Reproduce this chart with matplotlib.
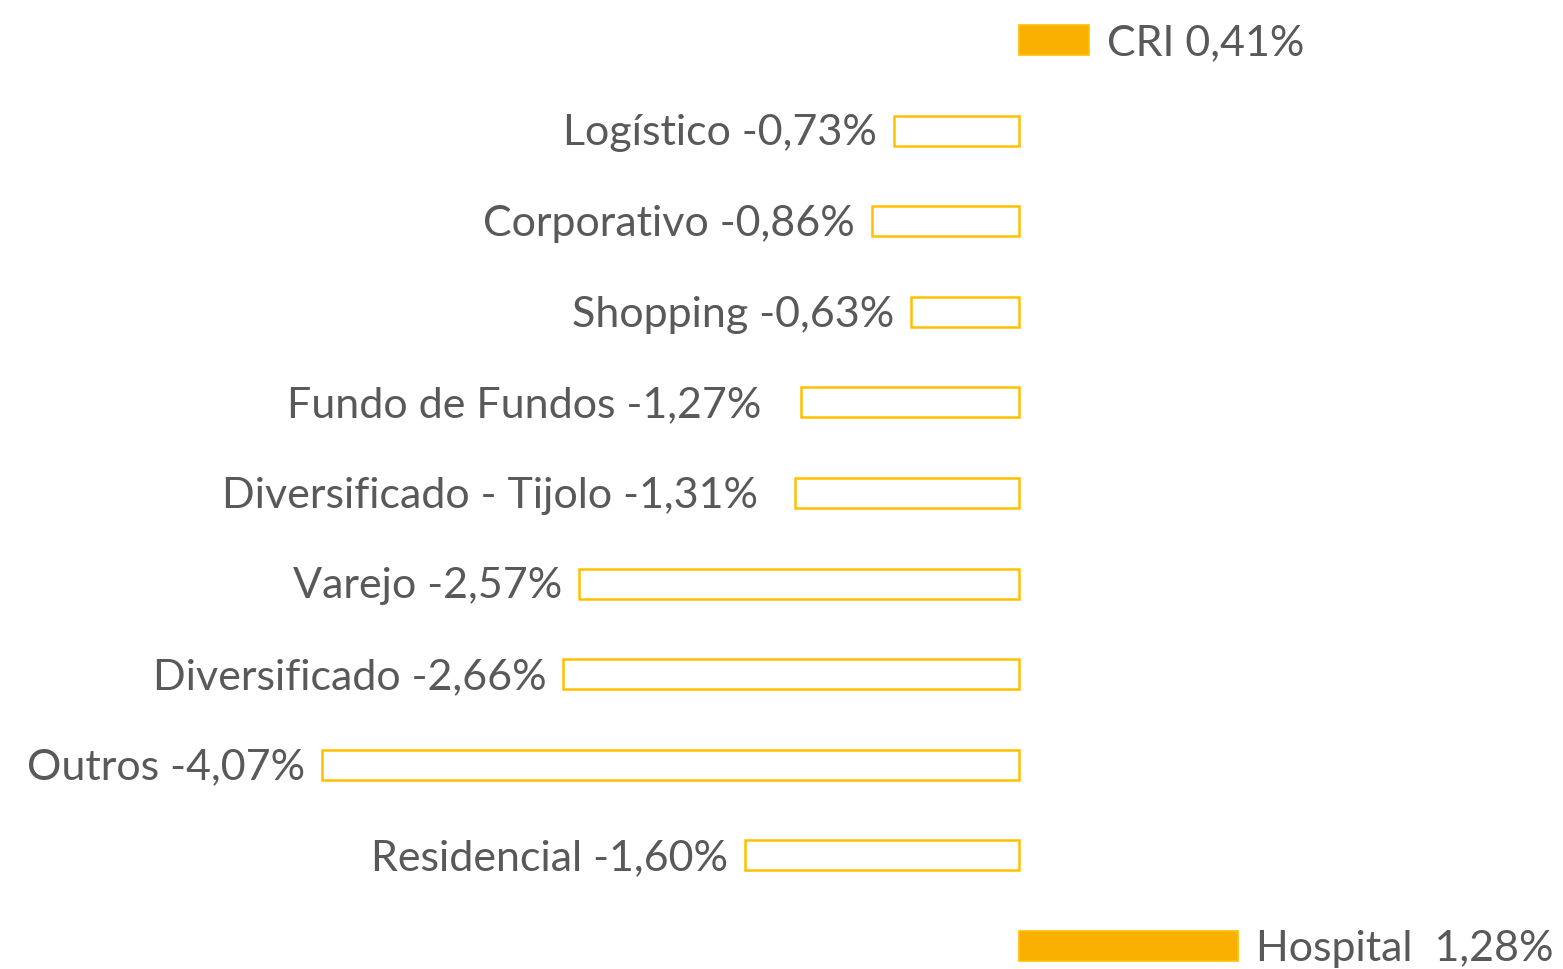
import matplotlib
matplotlib.use("Agg")
import matplotlib.pyplot as plt

# segmentos e retornos (%)
segmentos = ["CRI", "Logístico", "Corporativo", "Shopping", "Fundo de Fundos",
             "Diversificado - Tijolo", "Varejo", "Diversificado", "Outros",
             "Residencial", "Hospital "]
retornos = [0.41, -0.73, -0.86, -0.63, -1.27, -1.31, -2.57, -2.66, -4.07, -1.60, 1.28]
# distância do rótulo até a barra (pontos)
folga = [13, 12, 12, 12, 29, 26, 12, 12, 12, 12, 13]

laranja = "#FAB000"
borda = "#FFC000"
cinza = "#595959"

fig = plt.figure(figsize=(15.63, 9.69), dpi=100)
ax = fig.add_axes([0, 0, 1, 1])

pos = list(range(len(segmentos)))
for i, v in zip(pos, retornos):
    if v >= 0:
        ax.barh(i, v, height=0.331, color=laranja, edgecolor=borda, linewidth=1.2)
    else:
        ax.barh(i, v, height=0.331, color="white", edgecolor=borda, linewidth=1.8)

for i, (nome, v, g) in enumerate(zip(segmentos, retornos, folga)):
    txt = f"{nome} {v:.2f}%".replace(".", ",")
    if v >= 0:
        ax.annotate(txt, (v, i), xytext=(g, -2), textcoords="offset points",
                    ha="left", va="center", fontsize=31, color=cinza, family="Lato")
    else:
        ax.annotate(txt, (v, i), xytext=(-g, -2), textcoords="offset points",
                    ha="right", va="center", fontsize=31, color=cinza, family="Lato")

ax.set_xlim(-1019 / 171.3, (1563 - 1019) / 171.3)
ax.set_ylim((969 - 40) / 90.6, -40 / 90.6)
ax.axis("off")

fig.savefig("out.png", dpi=100, facecolor="white")
